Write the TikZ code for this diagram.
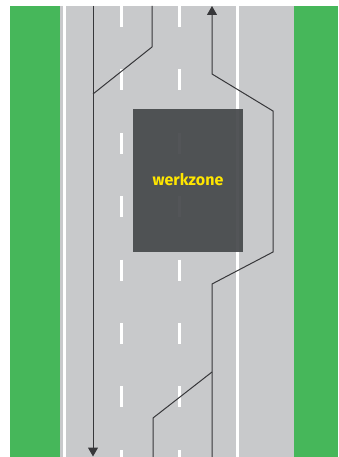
\documentclass[tikz,border=0pt]{standalone}
\usepackage{fontspec}
\setmainfont{Fira Sans}
\usetikzlibrary{arrows.meta}
\definecolor{grass}{RGB}{70,183,90}
\definecolor{asphalt}{RGB}{200,201,203}
\definecolor{zone}{RGB}{70,73,76}
\definecolor{zonetext}{RGB}{255,230,0}
\definecolor{route}{RGB}{55,55,58}
\tikzset{
  marking/.style={draw=white, line width=2.6pt},
  dashmark/.style={marking, dash pattern=on 21pt off 42.4pt},
  routeline/.style={draw=route, line width=1pt, line join=miter},
  routearrow/.style={routeline, -{Triangle[width=10pt,length=9pt]}}
}
\begin{document}
\begin{tikzpicture}[x=1pt,y=-1pt]
\useasboundingbox (0,0) rectangle (338,457);
\fill[white] (0,0) rectangle (338,457);
% verges
\fill[grass] (10,6) rectangle (60,457);
\fill[grass] (294,6) rectangle (338,457);
% road
\fill[asphalt] (60,6) rectangle (294,457);
% markings
\draw[marking] (64.5,6) -- (64.5,457);
\draw[marking] (237.5,6) -- (237.5,457);
\draw[dashmark] (121.5,6) -- (121.5,457);
\draw[dashmark] (179.5,6) -- (179.5,457);
% work zone
\node[fill=zone, fill opacity=0.93, minimum width=110pt, minimum height=143pt, inner sep=0pt, anchor=north west] (wz) at (133,109) {};
\node[text=zonetext, font=\bfseries\fontsize{16}{18}\selectfont] (wzlabel) at (188,180) {werkzone};
% routes
\coordinate (a1) at (93,6);
\coordinate (a2) at (93,94);
\coordinate (a3) at (93,456.5);
\coordinate (b1) at (152,6);
\coordinate (b2) at (152,47);
\draw[routearrow] (a1) -- (a3);
\draw[routeline] (b1) -- (b2) -- (a2);
\coordinate (c1) at (212,457);
\coordinate (c2) at (212,284);
\coordinate (c3) at (273,252);
\coordinate (c4) at (273,111);
\coordinate (c5) at (212,74);
\coordinate (c6) at (212,6);
\coordinate (d1) at (153,457);
\coordinate (d2) at (153,418);
\coordinate (d3) at (212,372);
\draw[routearrow] (c1) -- (c2) -- (c3) -- (c4) -- (c5) -- (c6);
\draw[routeline] (d1) -- (d2) -- (d3);
\end{tikzpicture}
\end{document}
